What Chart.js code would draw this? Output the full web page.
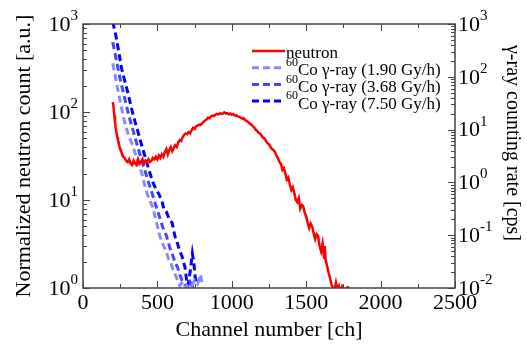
<!DOCTYPE html>
<html>
<head>
<meta charset="utf-8">
<script src="https://cdn.jsdelivr.net/npm/chart.js@4.4.0/dist/chart.umd.min.js"></script>
<style>
  body { margin: 0; background: #fff; }
  #wrap { width: 527px; height: 354px; }
</style>
</head>
<body>
<div id="wrap"><canvas id="spectrum" width="527" height="354"></canvas></div>
<script>
// Neutron spectrum (left axis, normalized count)
const neutronCh = [200, 205, 210, 215, 220, 225, 230, 235, 240, 245, 250, 255, 260, 265, 270, 280, 290, 300, 310, 320,
  330, 340, 350, 360, 370, 380, 390, 400, 410, 420, 430, 440, 450, 460, 470, 480, 490, 500, 510, 520,
  530, 540, 550, 560, 570, 580, 590, 600, 610, 620, 630, 640, 650, 660, 670, 680, 690, 700, 710, 720,
  730, 740, 750, 760, 770, 780, 790, 800, 810, 820, 830, 840, 850, 860, 870, 880, 890, 900, 910, 920,
  930, 940, 950, 960, 970, 980, 990, 1000, 1010, 1020, 1030, 1040, 1050, 1060, 1070, 1080, 1090, 1100, 1110, 1120,
  1130, 1140, 1150, 1160, 1170, 1180, 1190, 1200, 1210, 1220, 1230, 1240, 1250, 1260, 1270, 1280, 1290, 1300, 1310, 1320,
  1330, 1340, 1350, 1360, 1370, 1380, 1390, 1400, 1410, 1420, 1430, 1440, 1450, 1460, 1470, 1480, 1490, 1500, 1510, 1520,
  1530, 1540, 1550, 1560, 1570, 1580, 1590, 1600, 1610, 1620, 1625, 1630, 1640, 1650, 1660, 1670, 1680, 1690, 1700, 1710,
  1720, 1730, 1740, 1750, 1760, 1780, 1800];
const neutronCount = [130, 115, 92, 78, 66, 58, 52, 48, 45, 41, 38, 36, 34, 33, 31, 30, 28, 27, 29, 26,
  25, 28, 26, 25, 29, 26, 27, 29, 26, 28, 27, 29, 27, 28, 30, 29, 31, 29, 32, 30,
  33, 31, 35, 38, 33, 37, 40, 36, 39, 42, 40, 45, 48, 47, 52, 55, 57, 56, 59, 57,
  62, 66, 64, 69, 70, 72, 71, 74, 77, 80, 82, 86, 85, 89, 91, 90, 93, 95, 94, 97,
  95, 96, 99, 96, 97, 94, 96, 93, 95, 91, 92, 89, 88, 86, 84, 85, 81, 79, 77, 74,
  72, 69, 67, 63, 61, 58, 57, 54, 51, 50, 47, 44, 43, 40, 38, 37, 35, 32, 30, 27,
  26, 22, 23, 20, 17, 18, 15, 13, 14, 12, 10, 9.5, 10.5, 8.0, 8.8, 8.5, 7.2, 6.5, 5.5, 4.8,
  5.4, 5.0, 4.2, 3.6, 4.1, 3.9, 3.0, 2.6, 3.2, 2.2, 3.0, 2.1, 1.8, 1.5, 1.3, 1.1, 1.0, 0.95, 1.15, 0.95,
  1.05, 0.9, 1.02, 0.9, 0.97, 1.02, 0.9];

// 60Co gamma-ray counting rates (right axis, cps)
const lowCh = [200, 215, 230, 245, 260, 275, 290, 305, 320, 335, 350, 365, 380, 395, 410, 425, 440, 455, 470, 485,
  500, 515, 530, 545, 560, 575, 590, 605, 620, 635, 650, 670, 690, 710, 730, 750, 770, 790, 800];
const lowRate = [180, 110, 65, 40, 25, 16, 11, 8, 6.2, 5, 3.6, 2.7, 2.0, 1.5, 1.0, 0.7, 0.52, 0.42, 0.33, 0.22,
  0.15, 0.1, 0.075, 0.06, 0.05, 0.035, 0.03, 0.022, 0.018, 0.014, 0.011, 0.013, 0.01, 0.012, 0.011, 0.014, 0.012, 0.018, 0.012];

const midCh = [200, 215, 230, 245, 260, 275, 290, 305, 320, 335, 350, 365, 380, 395, 410, 425, 440, 455, 470, 485,
  500, 515, 530, 545, 560, 575, 590, 605, 620, 635, 650, 665, 680, 700, 720, 740];
const midRate = [450, 280, 170, 105, 68, 45, 30, 20, 14, 10, 7, 5, 3.6, 2.6, 1.9, 1.4, 1.0, 0.75, 0.55, 0.4,
  0.3, 0.22, 0.16, 0.12, 0.1, 0.07, 0.05, 0.04, 0.03, 0.025, 0.018, 0.014, 0.012, 0.01, 0.013, 0.01];

const highCh = [200, 220, 240, 260, 280, 300, 320, 335, 350, 365, 380, 400, 415, 430, 450, 470, 490, 510, 530, 545,
  560, 580, 600, 610, 620, 635, 650, 665, 685, 695, 705, 720, 735, 745, 755, 770];
const highRate = [1100, 620, 300, 140, 85, 52, 30, 20, 14, 10, 7, 4.5, 3.2, 2.3, 1.5, 1.0, 0.75, 0.6, 0.45, 0.3,
  0.28, 0.2, 0.17, 0.12, 0.09, 0.07, 0.05, 0.04, 0.025, 0.015, 0.011, 0.02, 0.045, 0.03, 0.015, 0.012];

const xTicks = [0, 500, 1000, 1500, 2000, 2500];
const rightTitle = 'γ-ray counting rate [cps]';

const serif = "'Liberation Serif', 'Times New Roman', serif";
Chart.defaults.font.family = serif;
const toPoints = (xs, ys) => xs.map((x, i) => ({ x: x, y: ys[i] }));

// inward ticks, frame, log labels with superscripts, right title and the in-plot legend
const decorations = {
  id: 'decorations',
  afterDraw(chart) {
    const ctx = chart.ctx;
    const area = chart.chartArea;
    const sx = chart.scales.x, sl = chart.scales.y, sr = chart.scales.y2;
    ctx.save();
    ctx.strokeStyle = '#444';
    ctx.lineWidth = 1.5;
    ctx.strokeRect(area.left, area.top, area.right - area.left, area.bottom - area.top);

    ctx.lineWidth = 1;
    ctx.beginPath();
    for (let v = sx.min; v <= sx.max; v += 250) {
      const px = Math.round(sx.getPixelForValue(v)) + 0.5;
      const len = v % 500 === 0 ? 7 : 4;
      ctx.moveTo(px, area.bottom); ctx.lineTo(px, area.bottom - len);
      ctx.moveTo(px, area.top); ctx.lineTo(px, area.top + len);
    }
    const logTicks = (scale, x0, dir) => {
      for (let e = Math.round(Math.log10(scale.min)); e < Math.round(Math.log10(scale.max)); e++) {
        for (let m = 1; m <= 10; m++) {
          const v = m * Math.pow(10, e);
          const py = Math.round(scale.getPixelForValue(v)) + 0.5;
          const len = (m === 1 || m === 10) ? 7 : 4;
          ctx.moveTo(x0, py); ctx.lineTo(x0 + dir * len, py);
        }
      }
    };
    logTicks(sl, area.left, 1);
    logTicks(sr, area.right, -1);
    ctx.stroke();

    // decade labels 10^n
    ctx.fillStyle = '#000';
    ctx.textBaseline = 'middle';
    const decadeLabel = (scale, x, align) => {
      for (let e = Math.round(Math.log10(scale.min)); e <= Math.round(Math.log10(scale.max)); e++) {
        const py = scale.getPixelForValue(Math.pow(10, e));
        ctx.font = '22px ' + serif;
        const baseW = ctx.measureText('10').width;
        ctx.font = '15px ' + serif;
        const supW = ctx.measureText(String(e)).width;
        let x0 = align === 'right' ? x - baseW - supW : x;
        ctx.font = '22px ' + serif;
        ctx.textAlign = 'left';
        ctx.fillText('10', x0, py + 1);
        ctx.font = '15px ' + serif;
        ctx.fillText(String(e), x0 + baseW, py - 8);
      }
    };
    decadeLabel(sl, area.left - 5, 'right');
    decadeLabel(sr, area.right + 3, 'left');

    // right axis title
    ctx.save();
    ctx.translate(512, 143);
    ctx.rotate(Math.PI / 2);
    ctx.textAlign = 'center';
    ctx.font = '20px ' + serif;
    ctx.fillText(rightTitle, 0, 0);
    ctx.restore();

    // legend
    ctx.textAlign = 'left';
    chart.data.datasets.forEach((ds, i) => {
      const y = area.top + 27 + i * 16.7;
      const x0 = area.left + 169, x1 = area.left + 202;
      ctx.strokeStyle = ds.borderColor;
      ctx.lineWidth = ds.borderWidth;
      ctx.setLineDash(ds.borderDash || []);
      ctx.beginPath(); ctx.moveTo(x0, y); ctx.lineTo(x1, y); ctx.stroke();
      ctx.setLineDash([]);
      let tx = x1 + 1;
      if (ds.labelSup) {
        ctx.font = '12px ' + serif;
        ctx.fillText(ds.labelSup, tx, y - 5);
        tx += ctx.measureText(ds.labelSup).width;
      }
      ctx.font = '17px ' + serif;
      ctx.fillText(ds.label, tx, y + 3);
    });
    ctx.restore();
  }
};

new Chart(document.getElementById('spectrum'), {
  type: 'line',
  data: {
    datasets: [{
      label: 'neutron',
      data: toPoints(neutronCh, neutronCount),
      yAxisID: 'y',
      borderColor: '#ff0000',
      borderWidth: 2.5
    }, {
      label: 'Co γ-ray (1.90 Gy/h)',
      labelSup: '60',
      data: toPoints(lowCh, lowRate),
      yAxisID: 'y2',
      borderColor: '#8a8aff',
      borderWidth: 3,
      borderDash: [7, 4]
    }, {
      label: 'Co γ-ray (3.68 Gy/h)',
      labelSup: '60',
      data: toPoints(midCh, midRate),
      yAxisID: 'y2',
      borderColor: '#4646ff',
      borderWidth: 3,
      borderDash: [7, 4]
    }, {
      label: 'Co γ-ray (7.50 Gy/h)',
      labelSup: '60',
      data: toPoints(highCh, highRate),
      yAxisID: 'y2',
      borderColor: '#0000ff',
      borderWidth: 3,
      borderDash: [7, 4]
    }]
  },
  options: {
    responsive: false,
    animation: false,
    elements: { point: { radius: 0 }, line: { tension: 0 } },
    layout: { padding: { top: 24, left: 0, right: 0, bottom: 0 } },
    plugins: { legend: { display: false }, tooltip: { enabled: false } },
    scales: {
      x: {
        type: 'linear',
        min: 0,
        max: 2500,
        afterBuildTicks: (scale) => { scale.ticks = xTicks.map(v => ({ value: v })); },
        ticks: { color: '#000', font: { family: serif, size: 22 }, padding: -6, maxRotation: 0, callback: (v) => String(v) },
        grid: { display: false },
        border: { display: false },
        title: { display: true, text: 'Channel number [ch]', color: '#000', font: { family: serif, size: 22 }, padding: { top: 0, bottom: 11 } },
        afterFit: (scale) => { scale.height = 66; }
      },
      y: {
        type: 'logarithmic',
        position: 'left',
        min: 1,
        max: 1000,
        ticks: { display: false },
        grid: { display: false },
        border: { display: false },
        title: { display: true, text: 'Normalized neutron count [a.u.]', color: '#000', font: { family: serif, size: 22 }, padding: { top: 11, bottom: 0 } },
        afterFit: (scale) => { scale.width = 83; }
      },
      y2: {
        type: 'logarithmic',
        position: 'right',
        min: 0.01,
        max: 1000,
        ticks: { display: false },
        grid: { display: false },
        border: { display: false },
        title: { display: false },
        afterFit: (scale) => { scale.width = 72; }
      }
    }
  },
  plugins: [decorations]
});
</script>
</body>
</html>
